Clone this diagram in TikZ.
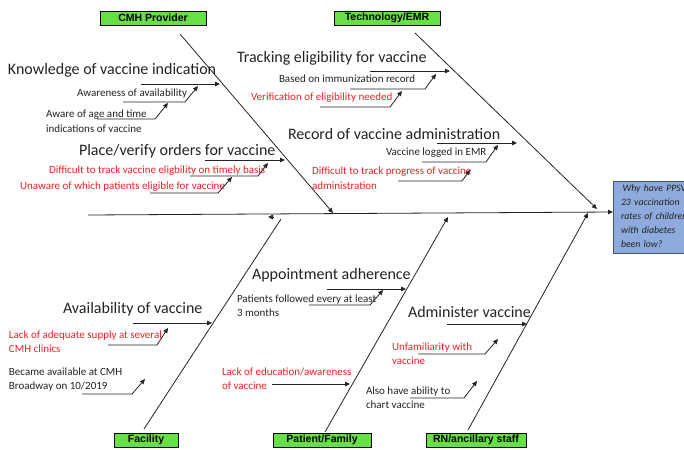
\documentclass[tikz,border=0pt]{standalone}
\usepackage{fontspec}
\setmainfont{Carlito}
\newfontfamily\arialfont{Liberation Sans}
\usetikzlibrary{arrows.meta}
\definecolor{catgreen}{RGB}{102,224,68}
\definecolor{probblue}{RGB}{143,170,220}
\definecolor{probedge}{RGB}{70,85,110}
\definecolor{causered}{RGB}{238,32,36}
\definecolor{inkgray}{RGB}{35,35,35}
\newcommand{\mlines}[1]{\begin{tabular}[t]{@{}l@{}}#1\end{tabular}}
\begin{document}
\begin{tikzpicture}[x=1pt,y=-1pt,
  every node/.style={inner sep=0pt, outer sep=0pt},
  catbox/.style={draw=black, line width=0.8pt, fill=catgreen, minimum height=14pt,
    font=\arialfont\bfseries\fontsize{10.5}{12}\selectfont},
  probbox/.style={draw=probedge, line width=0.8pt, fill=probblue, anchor=north west,
    inner xsep=8pt, text width=80pt, minimum height=72pt, align=left,
    font=\itshape\fontsize{9.8}{14}\selectfont, text=inkgray},
  headtext/.style={anchor=base west, text=inkgray, font=\fontsize{16}{19}\selectfont},
  causetext/.style={anchor=base west, text=inkgray, font=\fontsize{11}{14}\selectfont},
  redtext/.style={causetext, text=causered},
  bone/.style={draw=inkgray, line width=0.8pt},
  arr/.style={bone, -{Triangle[length=5pt,width=4.5pt]}}
]
\useasboundingbox (0,0) rectangle (684,449);
\clip (0,0) rectangle (684,449);

% category boxes
\node[catbox, minimum width=106pt] (cmh) at (153,18) {CMH Provider};
\node[catbox, minimum width=106pt] (tech) at (387,18) {Technology/EMR};
\node[catbox, minimum width=64pt] (fac) at (146,440) {Facility};
\node[catbox, minimum width=98pt] (pat) at (322,440) {Patient/Family};
\node[catbox, minimum width=100pt] (rn) at (476,440) {RN/ancillary staff};

% problem box
\node[probbox] (prob) at (613,181) {\mlines{\,Why have PPSV\\23 vaccination\\rates of children\\with diabetes\\been low?}};

% spine
\coordinate (sp0) at (88,215);
\coordinate (sp1) at (613,212);
\draw[arr] (sp0) -- (sp1);

% main bones
\coordinate (b1s) at (180,34);  \coordinate (b1e) at (333,213);
\coordinate (b2s) at (415,33);  \coordinate (b2e) at (597,209);
\coordinate (b3s) at (144,429); \coordinate (b3e) at (281,219);
\coordinate (b4s) at (325,432); \coordinate (b4e) at (448,217);
\coordinate (b5s) at (468,430); \coordinate (b5e) at (588,213);
\draw[arr] (b1s) -- (b1e);
\draw[arr] (b2s) -- (b2e);
\draw[bone] (b3s) -- (b3e);
\draw[arr] (b4s) -- (b4e);
\draw[arr] (b5s) -- (b5e);
\coordinate (sa) at (274,217); \coordinate (sb) at (268,217);
\draw[arr] (sa) -- (sb);

% headings
\node[headtext] (h1) at (8,75) {Knowledge of vaccine indication};
\node[headtext] (h2) at (79,155) {Place/verify orders for vaccine};
\node[headtext] (h3) at (237,63) {Tracking eligibility for vaccine};
\node[headtext] (h4) at (288,140) {Record of vaccine administration};
\node[headtext] (h5) at (63,313) {Availability of vaccine};
\node[headtext] (h6) at (252,279) {Appointment adherence};
\node[headtext] (h7) at (408,317) {Administer vaccine};

% causes
\node[causetext] (c1) at (77,97) {Awareness of availability};
\node[causetext] (c2) at (46,118) {\mlines{Aware of age and time\\indications of vaccine}};
\node[redtext] (c3) at (49,173) {Difficult to track vaccine eligbility on timely basis};
\node[redtext] (c4) at (20,189) {Unaware of which patients eligible for vaccine};
\node[causetext] (c5) at (279,83) {Based on immunization record};
\node[redtext] (c6) at (251,101) {Verification of eligibility needed};
\node[causetext] (c7) at (386,156) {Vaccine logged in EMR};
\node[redtext] (c8) at (312,175) {\mlines{Difficult to track progress of vaccine\\administration}};
\node[redtext] (c9) at (9,338) {\mlines{Lack of adequate supply at several\\CMH clinics}};
\node[causetext] (c10) at (9,375) {\mlines{Became available at CMH\\Broadway on 10/2019}};
\node[causetext] (c11) at (237,302) {\mlines{Patients followed every at least\\3 months}};
\node[redtext] (c12) at (222,375) {\mlines{Lack of education/awareness\\of vaccine}};
\node[redtext] (c13) at (392,350) {\mlines{Unfamiliarity with\\vaccine}};
\node[causetext] (c14) at (366,394) {\mlines{Also have ability to\\chart vaccine}};

% sub-bone arrows (headings)
\coordinate (k1) at (141,84); \coordinate (k2) at (220,84);
\draw[arr] (k1) -- (k2);
\coordinate (p1) at (205,160); \coordinate (p2) at (285,160);
\draw[arr] (p1) -- (p2);
\coordinate (t1) at (370,71); \coordinate (t2) at (450,71);
\draw[arr] (t1) -- (t2);
\coordinate (r1) at (437,143); \coordinate (r2) at (517,143);
\draw[arr] (r1) -- (r2);
\coordinate (v1) at (133,323); \coordinate (v2) at (212,323);
\draw[arr] (v1) -- (v2);
\coordinate (a1) at (327,289); \coordinate (a2) at (406,289);
\draw[arr] (a1) -- (a2);
\coordinate (m1) at (447,324); \coordinate (m2) at (527,324);
\draw[arr] (m1) -- (m2);
\coordinate (e1) at (272,384); \coordinate (e2) at (350,384);
\draw[arr] (e1) -- (e2);

% cause arrows (underline + diagonal)
\coordinate (u1a) at (123,102); \coordinate (u1b) at (185,102); \coordinate (u1c) at (198,86);
\draw[arr] (u1a) -- (u1b) -- (u1c);
\coordinate (u2a) at (97,119); \coordinate (u2b) at (155,119); \coordinate (u2c) at (168,103);
\draw[arr] (u2a) -- (u2b) -- (u2c);
\coordinate (u3a) at (190,176); \coordinate (u3b) at (258,176); \coordinate (u3c) at (268,163);
\draw[arr] (u3a) -- (u3b) -- (u3c);
\coordinate (u4a) at (150,193); \coordinate (u4b) at (218,193); \coordinate (u4c) at (232,177);
\draw[arr] (u4a) -- (u4b) -- (u4c);
\coordinate (u5a) at (350,89); \coordinate (u5b) at (425,89); \coordinate (u5c) at (436,74);
\draw[arr] (u5a) -- (u5b) -- (u5c);
\coordinate (u6a) at (320,107); \coordinate (u6b) at (390,107); \coordinate (u6c) at (402,91);
\draw[arr] (u6a) -- (u6b) -- (u6c);
\coordinate (u7a) at (422,162); \coordinate (u7b) at (486,162); \coordinate (u7c) at (498,145);
\draw[arr] (u7a) -- (u7b) -- (u7c);
\coordinate (u8a) at (398,181); \coordinate (u8b) at (462,181); \coordinate (u8c) at (470,170);
\draw[arr] (u8a) -- (u8b) -- (u8c);
\coordinate (u9a) at (108,345); \coordinate (u9b) at (157,345); \coordinate (u9c) at (168,328);
\draw[arr] (u9a) -- (u9b) -- (u9c);
\coordinate (u10a) at (82,394); \coordinate (u10b) at (132,394); \coordinate (u10c) at (145,379);
\draw[arr] (u10a) -- (u10b) -- (u10c);
\coordinate (u11a) at (309,305); \coordinate (u11b) at (370,305); \coordinate (u11c) at (383,290);
\draw[arr] (u11a) -- (u11b) -- (u11c);
\coordinate (u13a) at (418,354); \coordinate (u13b) at (485,354); \coordinate (u13c) at (498,339);
\draw[arr] (u13a) -- (u13b) -- (u13c);
\coordinate (u14a) at (410,398); \coordinate (u14b) at (464,398); \coordinate (u14c) at (477,381);
\draw[arr] (u14a) -- (u14b) -- (u14c);
\end{tikzpicture}
\end{document}
